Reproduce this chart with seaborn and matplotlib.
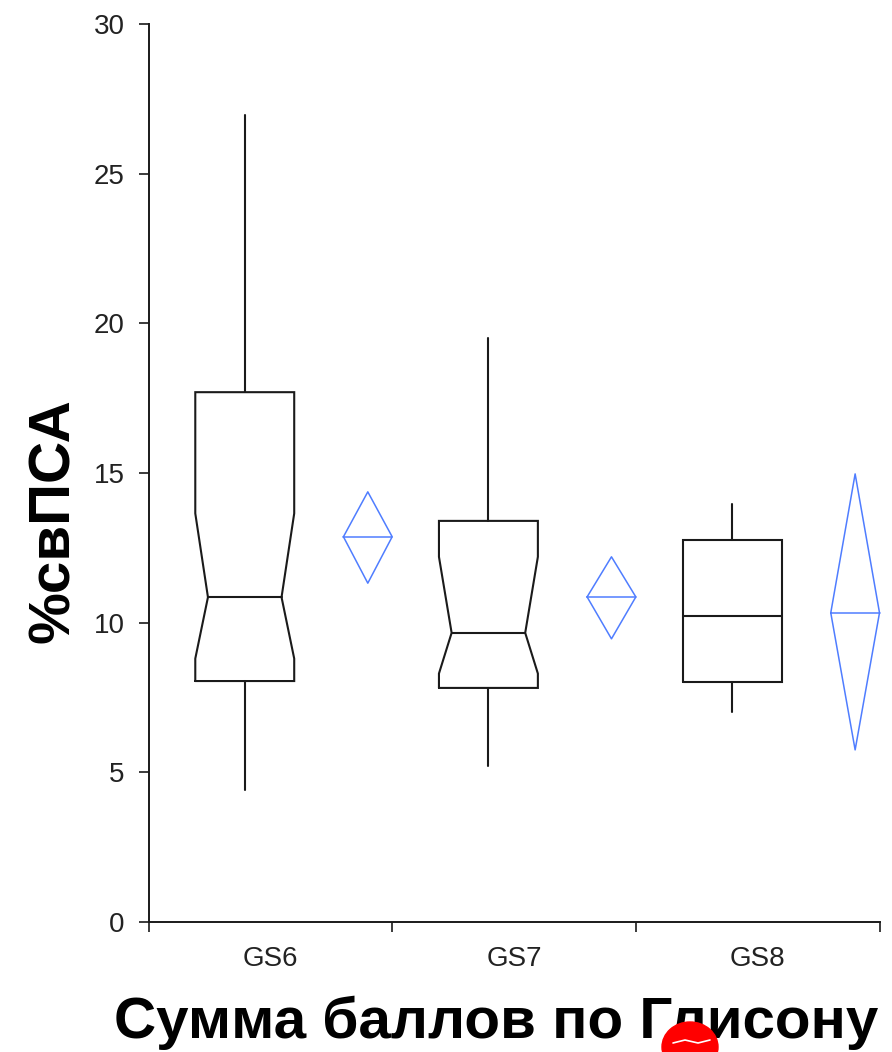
import numpy as np
import matplotlib
matplotlib.use('Agg')
import matplotlib.pyplot as plt
import seaborn as sns
from matplotlib.patches import Ellipse
from matplotlib.lines import Line2D

# summary stats
groups = ['GS6', 'GS7', 'GS8']
whisker_low = [4.4, 5.2, 7.0]
q1 = [8.05, 7.82, 8.03]
median = [10.85, 9.66, 10.22]
q3 = [17.7, 13.4, 12.75]
whisker_high = [26.95, 19.5, 13.95]
notch_low = [8.8, 8.3, np.nan]     # GS8 notch falls outside box -> not drawn
notch_high = [13.65, 12.2, np.nan]
mean = [12.87, 10.86, 10.33]
ci_low = [11.32, 9.46, 5.75]
ci_high = [14.37, 12.2, 14.97]

sns.set_style('ticks')
plt.rcParams['font.family'] = ['Liberation Sans', 'DejaVu Sans']

ink = '#1a1a1a'
blue = '#4f7dff'
box_c, box_w, notch_in = 0.395, 0.406, 0.052
dia_c, dia_w = 0.9, 0.2

fig = plt.figure(figsize=(8.92, 10.52), dpi=100)
ax = fig.add_axes([148.5 / 892, 1 - 922 / 1052, 731 / 892, 898 / 1052])

for i in range(len(groups)):
    c = i + box_c
    l, r = c - box_w / 2, c + box_w / 2
    if np.isnan(notch_low[i]):
        xs = [l, r, r, l, l]
        ys = [q1[i], q1[i], q3[i], q3[i], q1[i]]
        ml, mr = l, r
    else:
        ml, mr = l + notch_in, r - notch_in
        xs = [l, r, r, mr, r, r, l, l, ml, l, l]
        ys = [q1[i], q1[i], notch_low[i], median[i], notch_high[i], q3[i],
              q3[i], notch_high[i], median[i], notch_low[i], q1[i]]
    ax.plot(xs, ys, color=ink, lw=1.5, solid_joinstyle='miter')
    ax.plot([ml, mr], [median[i], median[i]], color=ink, lw=1.5)
    ax.plot([c, c], [q3[i], whisker_high[i]], color=ink, lw=1.5)
    ax.plot([c, c], [whisker_low[i], q1[i]], color=ink, lw=1.5)

    # mean diamond with CI
    d = i + dia_c
    ax.plot([d - dia_w / 2, d, d + dia_w / 2, d, d - dia_w / 2],
            [mean[i], ci_high[i], mean[i], ci_low[i], mean[i]],
            color=blue, lw=1.1, clip_on=False)
    ax.plot([d - dia_w / 2, d + dia_w / 2], [mean[i], mean[i]],
            color=blue, lw=1.1, clip_on=False)

ax.set_xlim(0, 3)
ax.set_ylim(0, 30)
ax.set_yticks(range(0, 31, 5))
ax.set_xticks([0, 1, 2, 3])
ax.set_xticklabels([])
ax.set_xticks([0.5, 1.5, 2.5], minor=True)
ax.set_xticklabels(groups, minor=True)
ax.tick_params(axis='both', which='major', length=7.2, width=1.2, color=ink,
               labelsize=20, labelcolor='#222222')
ax.tick_params(axis='y', pad=10)
ax.tick_params(axis='x', which='minor', length=0, pad=17,
               labelsize=20, labelcolor='#222222')
sns.despine(ax=ax)
for s in ['left', 'bottom']:
    ax.spines[s].set_linewidth(1.4)
    ax.spines[s].set_color(ink)

ax.set_xlabel('Сумма баллов по Глисону', fontsize=42, fontweight='bold',
              va='baseline', color='black')
ax.xaxis.set_label_coords(0.476, -0.1292)
ax.set_ylabel('%свПСА', fontsize=42, fontweight='bold', va='baseline',
              color='black')
ax.yaxis.set_label_coords(-0.109, 0.4465)

# red blot over the x label
fig.add_artist(Ellipse((690 / 892, 1 - 1047 / 1052), 56 / 892, 50 / 1052,
                       transform=fig.transFigure, color='red', zorder=10))
fig.add_artist(Line2D(np.array([673, 685, 698, 710]) / 892,
                      1 - np.array([1043, 1040, 1043, 1040]) / 1052,
                      transform=fig.transFigure, color='white', lw=1.2, zorder=11))

fig.savefig('out.png', dpi=100)
